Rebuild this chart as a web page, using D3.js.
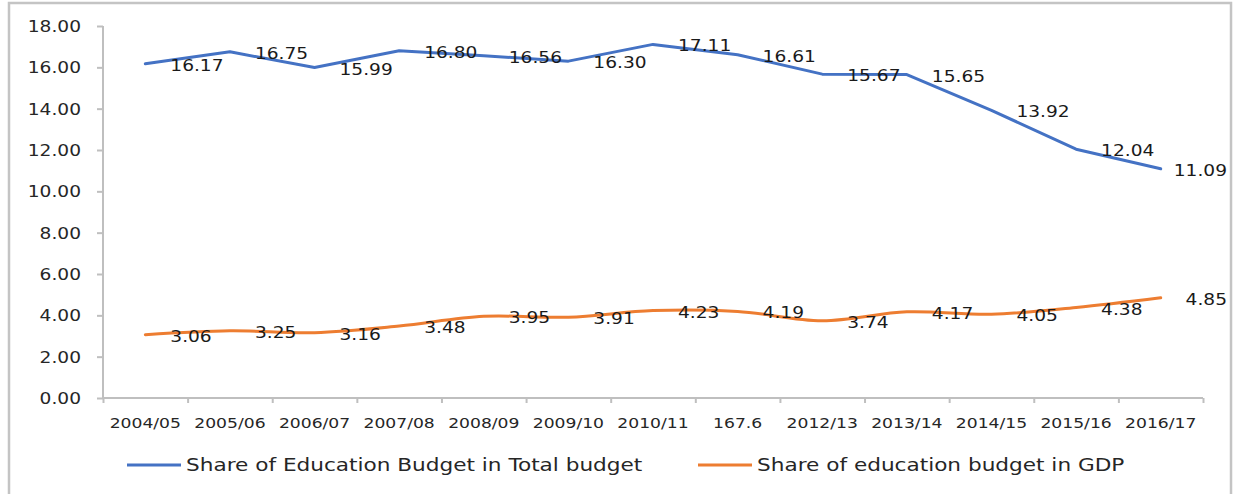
<!DOCTYPE html>
<html>
<head>
<meta charset="utf-8">
<script src="https://cdn.jsdelivr.net/npm/d3@7"></script>
<style>
	body { margin: 0; background: #fff; }
	svg { display: block; font-family: "DejaVu Sans", sans-serif; }
	.labels { font-family: "DejaVu Sans", sans-serif; }
	.labels text { fill: #262626; }
</style>
</head>
<body>
<svg></svg>
<script>
const categories = ['2004/05', '2005/06', '2006/07', '2007/08', '2008/09', '2009/10', '2010/11',
	'167.6', '2012/13', '2013/14', '2014/15', '2015/16', '2016/17'];
const totalBudgetShare = [16.17, 16.75, 15.99, 16.80, 16.56, 16.30, 17.11, 16.61, 15.67, 15.65, 13.92, 12.04, 11.09];
const gdpShare = [3.06, 3.25, 3.16, 3.48, 3.95, 3.91, 4.23, 4.19, 3.74, 4.17, 4.05, 4.38, 4.85];
const yTicks = [0, 2, 4, 6, 8, 10, 12, 14, 16, 18];
const seriesNames = ['Share of Education Budget in Total budget', 'Share of education budget in GDP'];

const width = 1236;
const height = 494;
const margin = { top: 26, right: 33, bottom: 96, left: 103 };
const innerWidth = width - margin.left - margin.right;
const innerHeight = height - margin.top - margin.bottom;
const sx = 1.2; // the picture is stretched sideways, so are its letters
const blue = '#4472c4';
const orange = '#ed7d31';
const axisGrey = '#bfbfbf';

// widen the glyphs of a text selection by sx
const stretch = sel => sel.each(function () {
	const w = this.getComputedTextLength();
	d3.select(this)
		.attr('textLength', w * sx)
		.attr('lengthAdjust', 'spacingAndGlyphs');
});

const svg = d3.select('svg')
	.attr('width', width)
	.attr('height', height);

// chart border
svg.append('rect')
	.attr('x', 9).attr('y', 3)
	.attr('width', 1222).attr('height', 520)
	.attr('fill', 'none')
	.attr('stroke', '#c4c4c4')
	.attr('stroke-width', 2.5);

const g = svg.append('g')
	.attr('transform', `translate(${margin.left},${margin.top})`);

const xScale = d3.scaleBand()
	.domain(categories)
	.range([0, innerWidth]);
const xEdge = d3.scaleLinear()
	.domain([0, categories.length])
	.range([0, innerWidth]);
const yScale = d3.scaleLinear()
	.domain([0, 18])
	.range([innerHeight, 0]);

const xPos = (d, i) => xScale(categories[i]) + xScale.bandwidth() / 2;

// y axis
const yAxisGroup = g.append('g')
	.call(d3.axisLeft(yScale).tickValues(yTicks).tickFormat(d3.format('.2f')).tickSize(6))
	.attr('class', 'labels')
	.attr('font-family', null);
yAxisGroup.selectAll('line, path').attr('stroke', axisGrey).attr('stroke-width', 2);
yAxisGroup.select('.domain').attr('d', `M0,0V${innerHeight}`);
yAxisGroup.selectAll('text')
	.attr('x', -22)
	.attr('dy', '0.36em')
	.attr('font-size', 15.5)
	.call(stretch);

// x axis: tick marks between categories
const xTickGroup = g.append('g')
	.attr('transform', `translate(0,${innerHeight})`)
	.call(d3.axisBottom(xEdge).tickValues(d3.range(categories.length + 1)).tickFormat('').tickSize(5));
xTickGroup.selectAll('line, path').attr('stroke', axisGrey).attr('stroke-width', 2);
xTickGroup.select('.domain').attr('d', `M0,0H${innerWidth}`);

const xAxisGroup = g.append('g')
	.attr('transform', `translate(0,${innerHeight})`)
	.call(d3.axisBottom(xScale).tickSize(0))
	.attr('class', 'labels')
	.attr('font-family', null);
xAxisGroup.select('.domain').remove();
xAxisGroup.selectAll('text')
	.attr('y', 25)
	.attr('dy', '0.36em')
	.attr('font-size', 14.3)
	.call(stretch);

// lines
const seriesList = [
	{ values: totalBudgetShare, color: blue, curve: d3.curveLinear },
	{ values: gdpShare, color: orange, curve: d3.curveCatmullRom.alpha(0.5) }
];

seriesList.forEach(s => {
	const line = d3.line()
		.x(xPos)
		.y(d => yScale(d))
		.curve(s.curve);

	g.append('path')
		.attr('d', line(s.values))
		.attr('fill', 'none')
		.attr('stroke', s.color)
		.attr('stroke-width', 3)
		.attr('stroke-linejoin', 'round')
		.attr('stroke-linecap', 'round');
});

// data labels, to the right of each point, kept inside the border
const labelRightLimit = width - 9 - margin.left;
seriesList.forEach(s => {
	g.selectAll(null).data(s.values)
		.enter().append('text')
			.attr('font-size', 15.5)
			.attr('fill', '#1a1a1a')
			.attr('dy', '0.36em')
			.attr('y', d => yScale(d) + 1.5)
			.text(d => d.toFixed(2))
			.call(stretch)
			.attr('x', function (d, i) {
				const w = +this.getAttribute('textLength');
				return Math.min(xPos(d, i) + 25, labelRightLimit - w);
			});
});

// legend
const legend = svg.append('g')
	.attr('transform', `translate(0,465)`);
const legendItems = [
	{ name: seriesNames[0], color: blue, x: 127 },
	{ name: seriesNames[1], color: orange, x: 698 }
];
legendItems.forEach(item => {
	legend.append('line')
		.attr('x1', item.x).attr('x2', item.x + 54)
		.attr('stroke', item.color)
		.attr('stroke-width', 3);
	legend.append('text')
		.attr('fill', '#262626')
		.attr('font-size', 18)
		.attr('dy', '0.36em')
		.attr('x', item.x + 59)
		.text(item.name)
		.call(stretch);
});
</script>
</body>
</html>
